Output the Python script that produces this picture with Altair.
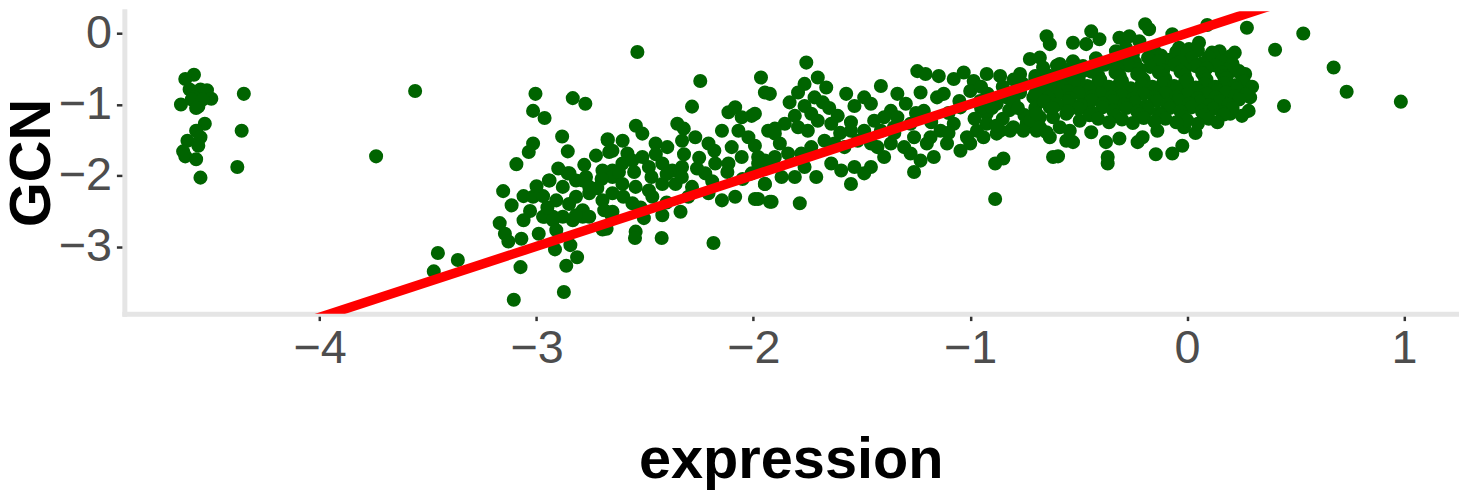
import altair as alt
import pandas as pd

# ---- data (expression, GCN) ----
left_x = [-4.58, -4.62, -4.60, -4.55, -4.52, -4.58, -4.50, -4.64, -4.56, -4.59, -4.54, -4.57,
          -4.53, -4.57, -4.55, -4.61, -4.56, -4.63, -4.62, -4.57, -4.55, -4.35, -4.36, -4.38,
          -3.74, -3.56]
left_y = [-0.58, -0.64, -0.79, -0.79, -0.80, -0.90, -0.92, -1.00, -1.03, -0.93, -0.93, -1.05,
          -1.27, -1.37, -1.46, -1.51, -1.58, -1.66, -1.73, -1.77, -2.03, -0.85, -1.37, -1.88,
          -1.73, -0.81]

band_a_x = [-3.005, -3.016, -2.963, -2.833, -2.775, -2.882, -2.856, -3.016, -3.036, -3.093, -3.154,
            -3.115, -3.06, -3.016, -2.97, -3.03, -3.06, -3.17, -3.146, -3.13, -3.07, -2.99, -2.943,
            -2.856, -2.909, -2.963, -2.924, -2.879, -2.833, -2.787, -2.818, -2.772, -2.726, -2.672,
            -2.665, -2.696, -2.650, -2.818, -2.757, -2.696, -2.650, -2.787, -2.757, -2.654, -2.677,
            -2.915, -2.844, -2.813, -2.863, -3.074, -3.455, -3.363, -3.474, -3.105, -2.874, -2.696]
band_a_y = [-0.85, -1.09, -1.19, -0.91, -0.99, -1.45, -1.66, -1.55, -1.67, -1.84, -2.22,
            -2.42, -2.29, -2.30, -2.29, -2.50, -2.63, -2.67, -2.82, -2.93, -2.89, -2.82, -2.07,
            -1.97, -2.35, -2.58, -2.58, -2.58, -2.63, -2.58, -2.07, -2.02, -1.72, -1.50,
            -1.67, -1.93, -1.93, -2.30, -2.25, -2.35, -2.25, -2.49, -2.58, -2.56, -2.75,
            -3.04, -2.98, -3.15, -3.27, -3.29, -3.09, -3.19, -3.35, -3.75, -3.64, -2.76]

band_b_x = [-2.535, -2.245, -1.965, -1.947, -1.924, -2.283, -2.672, -2.603, -2.542, -2.512, -2.650,
            -2.581, -2.451, -2.397, -2.351, -2.321, -2.329, -2.268, -2.207, -2.145, -2.115, -2.084,
            -2.054, -2.008, -2.069, -2.023, -1.993, -1.932,
            -2.940, -2.879, -2.848, -2.787, -2.757, -2.650, -2.604, -2.558, -2.512, -2.482, -2.420,
            -2.374, -2.329, -2.420, -2.482, -2.543, -2.604, -2.359, -2.283, -2.222, -2.176, -2.115,
            -2.054, -1.978, -1.932, -2.008, -1.947, -2.207, -2.145, -2.084, -1.993, -1.924,
            -2.970, -2.924, -2.818, -2.909, -2.688, -2.650, -2.558, -2.505, -2.543, -2.546, -2.466,
            -2.420, -2.423, -2.336, -2.184,
            -2.70, -2.62, -2.55, -2.47, -2.40, -2.33, -2.26, -2.19, -2.12, -2.05, -2.25, -2.32,
            -2.45, -2.18, -2.10, -2.60, -2.52, -2.40, -2.30, -2.95, -2.85, -3.00, -2.90, -2.78, -2.72]
band_b_y = [-0.26, -0.67, -0.62, -0.83, -0.85, -1.03, -1.49, -1.51, -1.30, -1.41, -1.65,
            -1.69, -1.55, -1.60, -1.27, -1.34, -1.51, -1.46, -1.55, -1.37, -1.11, -1.04,
            -1.18, -1.16, -1.37, -1.46, -1.58, -1.37,
            -2.07, -2.16, -1.97, -2.07, -2.16, -2.02, -1.83, -1.79, -1.74, -1.88, -1.83,
            -1.93, -1.88, -2.12, -2.21, -2.16, -2.12, -2.12, -2.16, -1.97, -1.83, -1.83,
            -1.74, -1.74, -1.83, -1.97, -2.12, -2.25, -2.35, -2.30, -2.33, -2.37,
            -2.58, -2.63, -2.56, -2.77, -2.49, -2.51, -2.39, -2.60, -2.79, -2.88, -2.30,
            -2.56, -2.88, -2.51, -2.95,
            -2.05, -1.95, -1.95, -2.02, -1.98, -2.02, -1.90, -2.08, -1.95, -2.05, -1.75, -1.70,
            -1.70, -1.65, -1.60, -2.30, -2.45, -2.38, -2.30, -2.45, -2.40, -2.15, -1.90, -1.85, -2.18]

mid_x = [-1.756, -1.703, -1.664, -1.764, -1.794, -1.718, -1.680, -1.833, -1.764, -1.993, -1.809,
         -1.733, -1.703, -1.794, -1.749, -1.855, -1.901, -1.572, -1.611, -1.641, -1.534, -1.489,
         -1.458, -1.412, -1.336, -1.297, -1.366, -1.397, -1.443, -1.489, -1.550, -1.519, -1.458,
         -1.580, -1.626, -1.672, -1.733, -1.779, -1.840, -1.901, -1.947, -1.978, -1.878, -1.901,
         -1.764, -1.710, -1.809, -1.870, -1.947, -1.916, -1.786, -1.978, -1.641, -1.595, -1.534,
         -1.489, -1.550, -1.458, -1.397, -1.428, -1.366, -1.412, -1.351,
         -1.244, -1.229, -1.206, -1.145, -1.076, -1.030, -0.984, -0.924, -0.862, -0.770, -0.725,
         -0.679, -0.648, -0.633,
         -1.336, -1.275, -1.214, -1.153, -1.122, -1.045, -1.000, -0.954, -0.924, -0.878, -0.832,
         -0.770, -0.709, -0.664, -0.633, -0.679, -0.740, -0.801, -0.862, -0.924, -0.969, -1.015,
         -1.076, -1.137, -1.183, -1.259, -1.305, -1.275, -1.229, -1.168, -1.107, -1.045, -1.000,
         -0.939, -0.878, -0.816, -0.755, -0.694, -0.633, -1.259, -0.885, -0.847, -0.885, -0.618,
         -1.60, -1.55, -1.65, -1.25, -1.18, -1.10, -1.05, -0.95, -0.82, -0.75, -0.80, -0.70,
         -1.35, -1.20, -1.10,
         -0.98, -0.90, -0.85, -0.78, -0.72, -0.92, -0.85, -0.76, -0.95, -0.88, -0.70, -0.80]
mid_y = [-0.41, -0.62, -0.76, -0.71, -0.83, -0.90, -0.97, -0.97, -1.02, -1.13, -1.16,
         -1.13, -1.23, -1.32, -1.37, -1.27, -1.34, -0.85, -1.16, -1.27, -1.02, -0.90,
         -0.99, -0.74, -0.85, -0.99, -1.09, -1.18, -1.23, -1.37, -1.37, -1.51, -1.55,
         -1.60, -1.55, -1.51, -1.60, -1.69, -1.69, -1.74, -1.79, -1.83, -1.55, -1.41,
         -1.88, -2.02, -2.02, -2.02, -2.12, -2.37, -2.39, -2.33, -1.83, -1.93, -1.88,
         -1.97, -2.12, -1.88, -1.74, -1.60, -1.55, -1.37, -1.32,
         -0.53, -0.83, -0.57, -0.60, -0.64, -0.55, -0.67, -0.57, -0.60, -0.57, -0.36,
         -0.34, -0.04, -0.15,
         -1.18, -1.27, -1.09, -0.90, -0.85, -1.04, -0.81, -0.95, -1.13, -0.99, -0.90,
         -0.83, -0.90, -0.76, -1.04, -1.18, -1.27, -1.32, -1.37, -1.27, -1.37, -1.46,
         -1.27, -1.37, -1.46, -1.46, -1.60, -1.69, -1.79, -1.74, -1.55, -1.65, -1.55,
         -1.46, -1.41, -1.37, -1.37, -1.37, -1.46, -1.95, -1.83, -1.76, -2.33, -1.74,
         -1.40, -1.25, -1.05, -1.12, -1.25, -1.12, -0.95, -1.05, -1.08, -1.15, -0.95, -1.05,
         -1.40, -1.55, -1.40,
         -1.20, -1.05, -1.20, -1.05, -1.22, -0.85, -0.75, -0.70, -0.75, -1.30, -0.60, -0.65]

right_x = [-0.193, -0.175, 0.093, 0.276, 0.536, 0.406, 0.676, 0.736, 0.986, 0.447, -0.526, -0.442,
           -0.404, -0.465, -0.312, -0.266, -0.220, -0.328, -0.282, -0.068, 0.055, -0.037, 0.009,
           0.192, 0.268, 0.115, 0.146, 0.207, 0.291, 0.284, 0.253, 0.199,
           -0.679, -0.648, -0.595, -0.557, -0.526, -0.442, -0.374, -0.366, -0.366, -0.312, -0.228,
           -0.205, -0.137, -0.144, -0.068, -0.022, 0.039, -0.014, 0.070,
           -0.664, -0.694, -0.618, -0.557, -0.511, -0.587, -0.541, -0.495, -0.465, -0.480, -0.541,
           -0.618, -0.664, -0.587, -0.526, -0.480, -0.557]
right_y = [0.13, 0.06, 0.12, 0.08, 0.00, -0.23, -0.48, -0.82, -0.96, -1.02, -0.13, 0.03,
           -0.08, -0.15, -0.06, -0.04, -0.11, -0.25, -0.20, -0.01, -0.13, -0.20, -0.22,
           -0.34, -0.57, -0.27, -0.43, -0.53, -0.90, -1.09, -1.16, -1.13,
           -1.32, -1.39, -1.73, -1.51, -1.53, -1.39, -1.53, -1.74, -1.83, -1.48, -1.53,
           -1.46, -1.37, -1.70, -1.69, -1.58, -1.40, -1.32, -1.11,
           -0.95, -1.13, -1.18, -1.13, -1.04, -1.32, -1.37, -1.23, -0.95, -0.76, -0.81,
           -0.71, -0.48, -0.43, -0.39, -0.53, -0.62]

core_x = [-0.15, -0.05, 0.05, 0.15, 0.22,
          -0.25, -0.12, 0.00, 0.12, 0.20,
          -0.42, -0.30, -0.18, -0.08, 0.02, 0.10,
          -0.36, -0.24, -0.13, -0.03, 0.07, 0.16,
          -0.60, -0.48, -0.38, -0.27, -0.17, -0.06, 0.04, 0.13, 0.21,
          -0.54, -0.43, -0.32, -0.22, -0.11, -0.01, 0.09, 0.18,
          -0.66, -0.55, -0.44, -0.33, -0.23, -0.13, -0.03, 0.07, 0.16, 0.24,
          -0.63, -0.52, -0.41, -0.31, -0.21, -0.11, -0.01, 0.08, 0.17, 0.25,
          -0.70, -0.60, -0.50, -0.40, -0.30, -0.20, -0.10, 0.00, 0.09, 0.18, 0.26,
          -0.63, -0.52, -0.41, -0.31, -0.21, -0.11, -0.01, 0.08, 0.17, 0.26,
          -0.68, -0.57, -0.46, -0.36, -0.26, -0.16, -0.06, 0.04, 0.13, 0.22, 0.30,
          -0.65, -0.55, -0.45, -0.35, -0.25, -0.15, -0.05, 0.05, 0.14, 0.23,
          -0.70, -0.60, -0.50, -0.40, -0.30, -0.20, -0.10, 0.00, 0.09, 0.18, 0.27,
          -0.64, -0.54, -0.44, -0.35, -0.25, -0.15, -0.05, 0.05, 0.13, 0.22,
          -0.66, -0.55, -0.44, -0.34, -0.24, -0.14, -0.04, 0.06, 0.15, 0.24,
          -0.60, -0.49, -0.39, -0.29, -0.19, -0.09, 0.01, 0.10, 0.19,
          -0.62, -0.50, -0.39, -0.28, -0.18, -0.08, 0.02, 0.12, 0.21,
          -0.55, -0.44, -0.34, -0.23, -0.13, -0.03, 0.07, 0.16,
          -0.45, -0.33, -0.22, -0.12, -0.02, 0.08, 0.17,
          -0.41, -0.30, -0.20, -0.10, 0.00, 0.10,
          -0.36, -0.25, -0.15, -0.05, 0.05, 0.14]
core_y = [-0.25, -0.26, -0.24, -0.25, -0.27,
          -0.30, -0.31, -0.29, -0.30, -0.32,
          -0.35, -0.36, -0.34, -0.37, -0.35, -0.33,
          -0.40, -0.41, -0.39, -0.40, -0.42, -0.40,
          -0.45, -0.46, -0.44, -0.45, -0.47, -0.44, -0.46, -0.45, -0.43,
          -0.50, -0.51, -0.49, -0.50, -0.52, -0.50, -0.49, -0.51,
          -0.55, -0.56, -0.54, -0.55, -0.57, -0.55, -0.54, -0.56, -0.55, -0.53,
          -0.60, -0.61, -0.59, -0.60, -0.62, -0.60, -0.59, -0.61, -0.60, -0.58,
          -0.65, -0.66, -0.64, -0.65, -0.67, -0.65, -0.64, -0.66, -0.65, -0.63, -0.66,
          -0.70, -0.71, -0.69, -0.70, -0.72, -0.70, -0.69, -0.71, -0.70, -0.68,
          -0.75, -0.76, -0.74, -0.75, -0.77, -0.75, -0.74, -0.76, -0.75, -0.73, -0.75,
          -0.80, -0.81, -0.79, -0.80, -0.82, -0.80, -0.79, -0.81, -0.80, -0.78,
          -0.85, -0.86, -0.84, -0.85, -0.87, -0.85, -0.84, -0.86, -0.85, -0.83, -0.86,
          -0.90, -0.91, -0.89, -0.90, -0.92, -0.90, -0.89, -0.91, -0.90, -0.88,
          -0.95, -0.96, -0.94, -0.95, -0.97, -0.95, -0.94, -0.96, -0.95, -0.93,
          -1.00, -1.01, -0.99, -1.00, -1.02, -1.00, -0.99, -1.01, -1.00,
          -1.05, -1.06, -1.04, -1.05, -1.07, -1.05, -1.04, -1.06, -1.05,
          -1.10, -1.11, -1.09, -1.10, -1.12, -1.10, -1.09, -1.11,
          -1.15, -1.16, -1.14, -1.15, -1.17, -1.15, -1.14,
          -1.20, -1.21, -1.19, -1.20, -1.22, -1.20,
          -1.25, -1.26, -1.24, -1.25, -1.27, -1.25]

# fitted line and the panel limits
fit_slope = 1.0
fit_intercept = 0.004
x_limits = [-4.901, 1.245]
y_limits = [-3.945, 0.312]
x_ticks = [-4, -3, -2, -1, 0, 1]
y_ticks = [-3, -2, -1, 0]

xs = left_x + band_a_x + band_b_x + mid_x + right_x + core_x
ys = left_y + band_a_y + band_b_y + mid_y + right_y + core_y
points = pd.DataFrame({"expression": xs, "GCN": ys})
fit = pd.DataFrame({"expression": x_limits})

minus_expr = "datum.value < 0 ? '\u2212' + abs(datum.value) : '' + datum.value"

x_enc = alt.X(
    "expression:Q",
    scale=alt.Scale(domain=x_limits, nice=False, zero=False),
    axis=alt.Axis(values=x_ticks, title="expression", labelExpr=minus_expr,
                  tickSize=7, labelPadding=5, titleY=165, titleBaseline="alphabetic"),
)
y_enc = alt.Y(
    "GCN:Q",
    scale=alt.Scale(domain=y_limits, nice=False, zero=False),
    axis=alt.Axis(values=y_ticks, title="GCN", labelExpr=minus_expr,
                  tickSize=8, labelPadding=5, titleX=-75, titleBaseline="alphabetic"),
)

pts = alt.Chart(points).mark_circle(size=200, color="#006400", opacity=1).encode(x=x_enc, y=y_enc)

line = (
    alt.Chart(fit)
    .transform_calculate(GCN=f"{fit_slope} * datum.expression + {fit_intercept}")
    .mark_line(color="#FF0000", strokeWidth=9.5, clip=True)
    .encode(x=alt.X("expression:Q"), y=alt.Y("GCN:Q"))
)

chart = (
    alt.layer(pts, line)
    .properties(
        width=1340,
        height=304,
        padding={"left": 117, "top": 2, "right": 2, "bottom": 180},
        autosize=alt.AutoSizeParams(type="none"),
        background="white",
    )
    .configure_view(stroke=None)
    .configure_axis(
        grid=False,
        zindex=1,
        domainColor="#E5E5E5",
        domainWidth=5,
        domainCap="square",
        tickColor="#333333",
        tickWidth=2.5,
        labelFont="Liberation Sans",
        labelFontSize=47,
        labelColor="#4D4D4D",
        titleFont="Liberation Sans",
        titleFontSize=58,
        titleFontWeight="bold",
        titleColor="#000000",
    )
)

chart.save("out.html", embed_options={"renderer": "svg", "actions": False})
